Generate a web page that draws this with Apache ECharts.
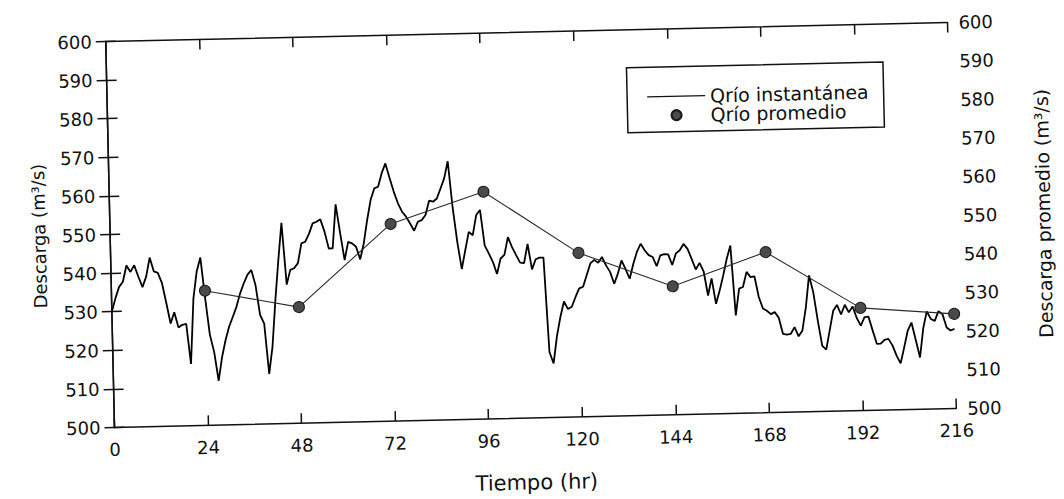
<!DOCTYPE html>
<html>
<head>
<meta charset="utf-8">
<script src="https://cdn.jsdelivr.net/npm/echarts@6/dist/echarts.min.js"></script>
<style>
  html, body { margin: 0; padding: 0; background: #fff; overflow: hidden; }
  /* the scanned figure is tilted a little, so the whole chart is turned to match */
  #chart {
    position: absolute; left: 0; top: 0;
    width: 1064px; height: 499px;
    transform: rotate(-1.3deg);
    transform-origin: 531px 225px;
  }
</style>
</head>
<body>
<div id="chart"></div>
<script>
// hourly discharge (m3/s), hours 0..216
var flow = [
  530, 533.5, 536.4, 537.7, 541.9, 540.2, 541.9, 538.9, 536.2, 538.9,
  543.8, 540.2, 539.8, 537.2, 532, 526.6, 529.5, 525.5, 526.2, 526.4,
  516, 533, 540, 543.5, 533, 523.5, 519, 511.5, 517.6, 522,
  525.5, 528, 530.6, 534, 536.6, 538.8, 540, 536, 528.3, 526,
  513, 520, 532, 542.5, 552, 536, 539.8, 540.2, 541.5, 546.6,
  547, 549, 551.7, 552.1, 552.7, 549.5, 545.1, 545.1, 556.5, 549,
  542, 546.7, 546.3, 545.4, 542.1, 546.2, 552.2, 557.4, 560.4, 560.8,
  564.3, 566.8, 563, 559.4, 556.4, 554.2, 552.9, 551.1, 549.2, 551.5,
  551.9, 553.2, 556.9, 556.6, 557.4, 560, 562.6, 567, 555, 546,
  539, 543.9, 548.6, 547.7, 552.9, 554.2, 545, 542.9, 540.7, 537.5,
  541.5, 542.4, 547, 544.4, 542.3, 540.3, 540.2, 545.1, 538.5, 541.1,
  541.5, 541.5, 517, 514, 521, 526, 530, 528, 528.6, 531.1,
  533.3, 533.7, 536.7, 539.7, 540.6, 539.8, 541.3, 539.1, 537.4, 534.3,
  536.9, 540.3, 538, 535.5, 539.3, 542.4, 544.5, 542.8, 541.5, 541,
  538.6, 541.4, 541.7, 541.6, 538.8, 541.8, 542.6, 544.2, 542.9, 540.3,
  537.5, 539.2, 537, 530.7, 535.1, 528.5, 531.9, 535.8, 540.1, 543.5,
  525.4, 532.3, 532.7, 536.6, 535.2, 535.4, 530, 527, 526.4, 525.5,
  526, 524.5, 520.3, 520.1, 520.3, 522, 519.6, 521.1, 527, 535.3,
  530.9, 523.5, 517, 516, 521, 526, 527.5, 525, 527.5, 525.5,
  527, 524, 522, 524.2, 524.3, 520.7, 517.2, 517.2, 518.2, 518.4,
  516.7, 514, 512, 516.1, 520.4, 522.5, 518, 513.4, 521, 525.3,
  523.3, 522.8, 525.3, 524.5, 521, 520.2, 520.6
];

// daily averages
var avgHours = [24, 48, 72, 96, 120, 144, 168, 192, 216];
var avgFlow = [534.9, 530.1, 551.1, 558.9, 542.5, 533.3, 541.6, 526.6, 524.5];

var font = "DejaVu Sans";
var ink = "#111";

var myChart = echarts.init(document.getElementById("chart"), null, { renderer: "svg" });

var axisLine = { show: true, lineStyle: { color: ink, width: 1.5 } };
var axisTick = { show: true, inside: true, length: 10, lineStyle: { color: ink, width: 1.5 } };

myChart.setOption({
  animation: false,
  backgroundColor: "#fff",
  grid: { left: 110, right: 112, top: 32, bottom: 81 },
  legend: {
    orient: "vertical",
    left: 630,
    top: 70,
    padding: [20, 15, 7, 20],
    itemWidth: 58,
    itemHeight: 10,
    itemGap: 0,
    borderColor: ink,
    borderWidth: 1.5,
    selectedMode: false,
    textStyle: { color: ink, fontSize: 19, fontFamily: font, lineHeight: 19 },
    data: [
      // plain line sample, no marker
      { name: "Qrío instantánea", icon: "path://M0,0H100V2.2H0Z" },
      { name: "Qrío promedio", icon: "circle" },
    ],
  },
  xAxis: [
    {
      type: "value",
      min: 0,
      max: 216,
      interval: 24,
      position: "bottom",
      axisLine: axisLine,
      axisTick: axisTick,
      splitLine: { show: false },
      axisLabel: { color: ink, fontSize: 18, fontFamily: font, margin: 13 },
      name: "Tiempo (hr)",
      nameLocation: "middle",
      nameGap: 54,
      nameTextStyle: { color: ink, fontSize: 21, fontFamily: font },
    },
    {
      type: "value",
      min: 0,
      max: 216,
      interval: 24,
      position: "top",
      axisLine: axisLine,
      axisTick: axisTick,
      splitLine: { show: false },
      axisLabel: { show: false },
    },
  ],
  yAxis: [
    {
      type: "value",
      min: 500,
      max: 600,
      interval: 10,
      position: "left",
      axisLine: axisLine,
      axisTick: axisTick,
      splitLine: { show: false },
      axisLabel: { color: ink, fontSize: 18, fontFamily: font, margin: 14 },
      name: "Descarga (m³/s)",
      nameLocation: "middle",
      nameRotate: 90,
      nameGap: 62,
      nameTextStyle: { color: ink, fontSize: 18, fontFamily: font },
    },
    {
      type: "value",
      min: 500,
      max: 600,
      interval: 10,
      position: "right",
      axisLine: axisLine,
      axisTick: axisTick,
      splitLine: { show: false },
      axisLabel: { color: ink, fontSize: 18, fontFamily: font, margin: 11 },
      name: "Descarga promedio (m³/s)",
      nameLocation: "middle",
      nameRotate: 90,
      nameGap: 82,
      nameTextStyle: { color: ink, fontSize: 19, fontFamily: font },
    },
  ],
  series: [
    {
      name: "Qrío instantánea",
      type: "line",
      xAxisIndex: 0,
      yAxisIndex: 0,
      symbol: "none",
      color: ink,
      lineStyle: { color: "#000", width: 1.8 },
      data: flow.map(function (v, i) { return [i, v]; }),
    },
    {
      name: "Qrío promedio",
      type: "line",
      xAxisIndex: 0,
      yAxisIndex: 1,
      symbol: "circle",
      symbolSize: 11,
      z: 3,
      color: "#4a4a4a",
      itemStyle: { color: "#4a4a4a", borderColor: "#1a1a1a", borderWidth: 1 },
      lineStyle: { color: "#2a2a2a", width: 1.1 },
      data: avgHours.map(function (h, i) { return [h, avgFlow[i]]; }),
    },
  ],
});
</script>
</body>
</html>
